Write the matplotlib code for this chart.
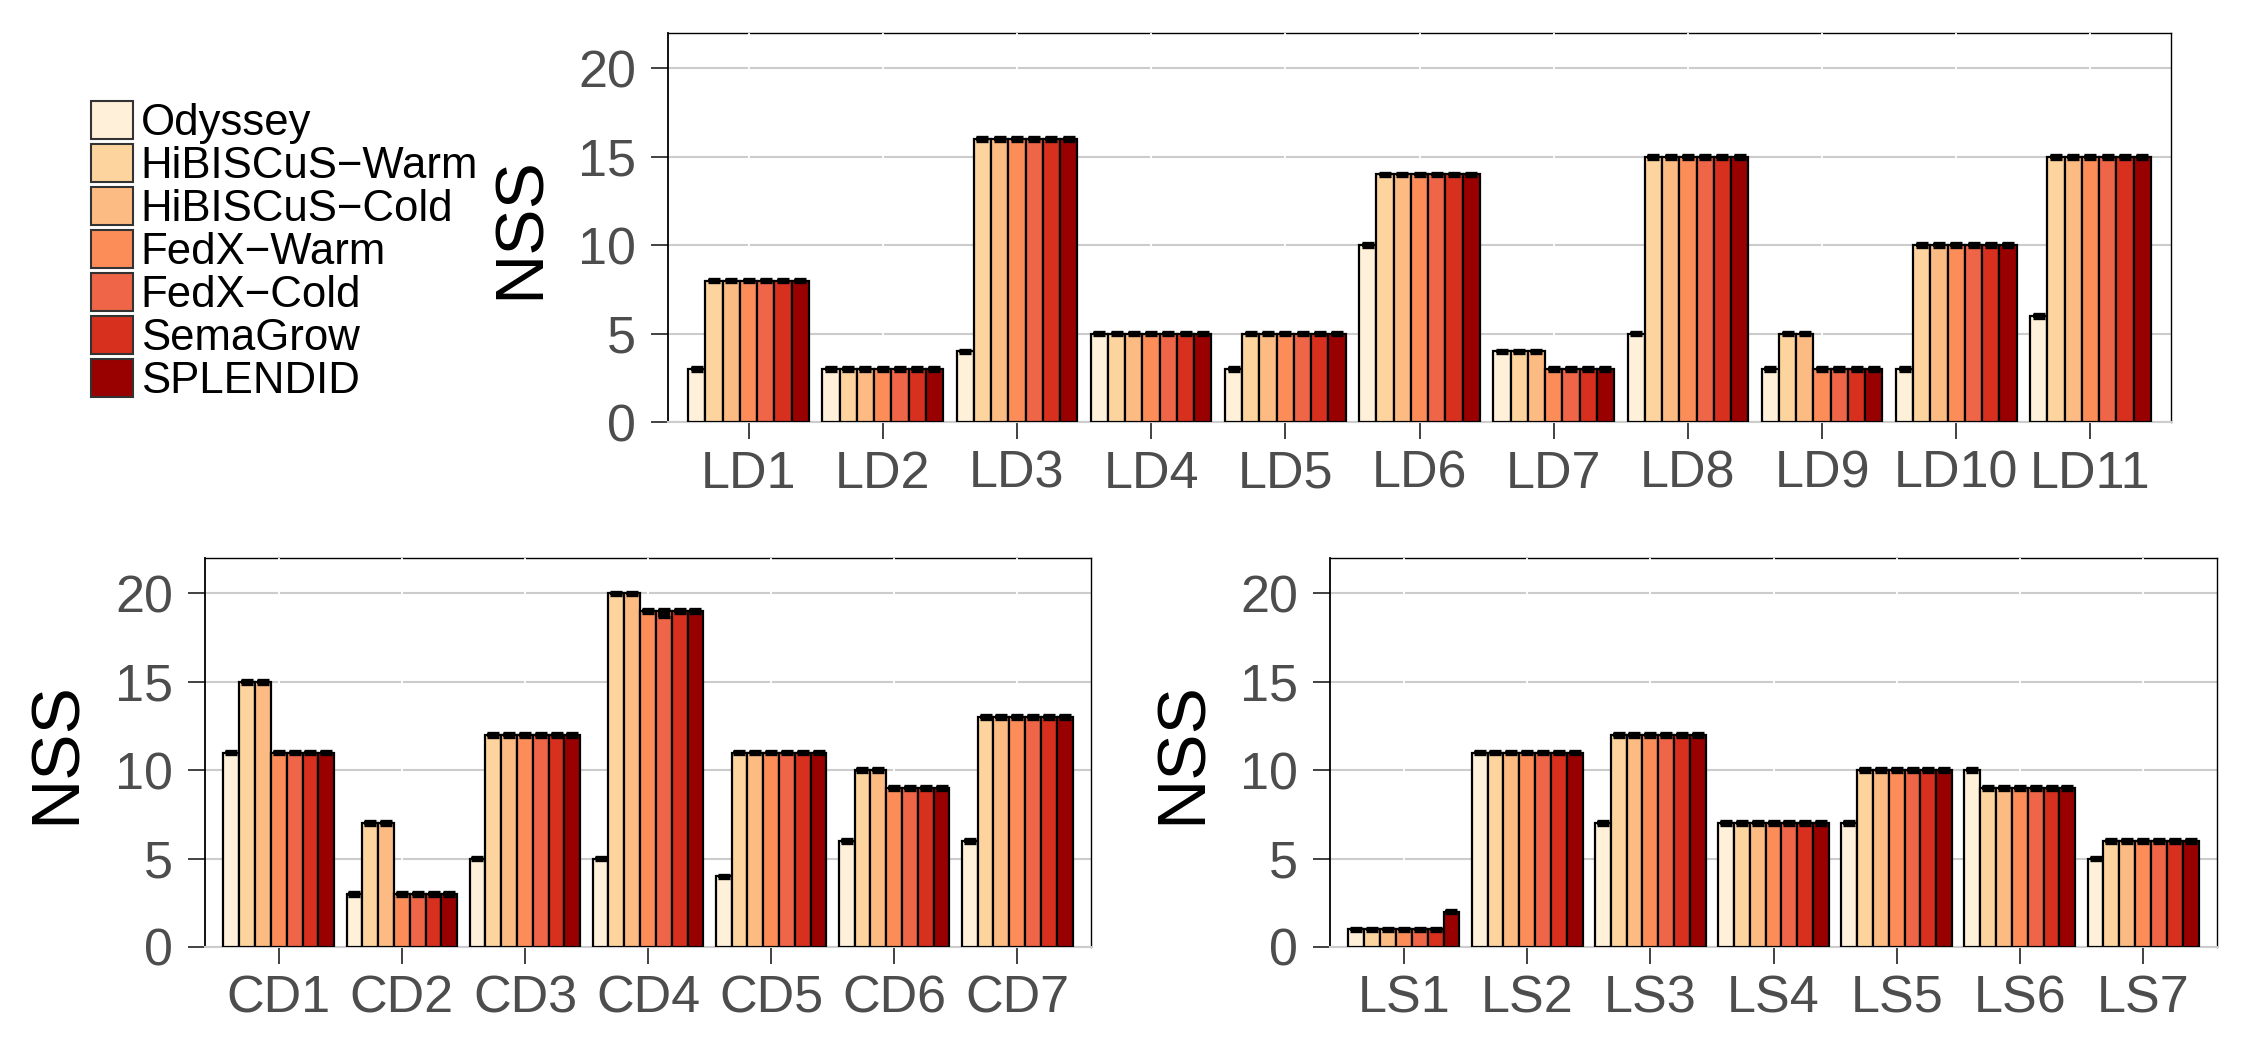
import matplotlib
matplotlib.use("Agg")
import matplotlib.pyplot as plt
import numpy as np
from matplotlib.patches import Patch

plt.rcParams["font.family"] = ["Liberation Sans", "DejaVu Sans"]

systems = ["Odyssey", "HiBISCuS\u2212Warm", "HiBISCuS\u2212Cold", "FedX\u2212Warm",
           "FedX\u2212Cold", "SemaGrow", "SPLENDID"]
colors = ["#fef0d9", "#fdd49e", "#fdbb84", "#fc8d59", "#ef6548", "#d7301f", "#990000"]

# one row per query, one value per system (same order as `systems`)
ld_queries = ["LD1", "LD2", "LD3", "LD4", "LD5", "LD6", "LD7", "LD8", "LD9", "LD10", "LD11"]
ld_nss = [
    [3, 8, 8, 8, 8, 8, 8],
    [3, 3, 3, 3, 3, 3, 3],
    [4, 16, 16, 16, 16, 16, 16],
    [5, 5, 5, 5, 5, 5, 5],
    [3, 5, 5, 5, 5, 5, 5],
    [10, 14, 14, 14, 14, 14, 14],
    [4, 4, 4, 3, 3, 3, 3],
    [5, 15, 15, 15, 15, 15, 15],
    [3, 5, 5, 3, 3, 3, 3],
    [3, 10, 10, 10, 10, 10, 10],
    [6, 15, 15, 15, 15, 15, 15],
]

cd_queries = ["CD1", "CD2", "CD3", "CD4", "CD5", "CD6", "CD7"]
cd_nss = [
    [11, 15, 15, 11, 11, 11, 11],
    [3, 7, 7, 3, 3, 3, 3],
    [5, 12, 12, 12, 12, 12, 12],
    [5, 20, 20, 19, 19, 19, 19],
    [4, 11, 11, 11, 11, 11, 11],
    [6, 10, 10, 9, 9, 9, 9],
    [6, 13, 13, 13, 13, 13, 13],
]

ls_queries = ["LS1", "LS2", "LS3", "LS4", "LS5", "LS6", "LS7"]
ls_nss = [
    [1, 1, 1, 1, 1, 1, 2],
    [11, 11, 11, 11, 11, 11, 11],
    [7, 12, 12, 12, 12, 12, 12],
    [7, 7, 7, 7, 7, 7, 7],
    [7, 10, 10, 10, 10, 10, 10],
    [10, 9, 9, 9, 9, 9, 9],
    [5, 6, 6, 6, 6, 6, 6],
]

# error bars are tiny; one wider lower whisker on CD4 / FedX-Cold
err = 0.1
cd_err_low = {(3, 4): 0.35}

TICK_GREY = "#4d4d4d"
GRID_GREY = "#cccccc"


def draw_panel(ax, queries, nss, err_low=None):
    err_low = err_low or {}
    vals = np.array(nss, dtype=float)
    n = len(queries)
    centers = np.arange(1, n + 1)
    w = 0.9 / len(systems)

    for j, (name, col) in enumerate(zip(systems, colors)):
        x = centers + (j - (len(systems) - 1) / 2) * w
        y = vals[:, j]
        ax.bar(x, y, width=w, color=col, edgecolor="black", linewidth=1.6, zorder=4)
        lo = [err_low.get((i, j), err) for i in range(n)]
        ax.errorbar(x, y, yerr=[lo, [err] * n], fmt="none", ecolor="black",
                    elinewidth=8.5, capsize=4.3, capthick=2.4, zorder=5)

    ax.set_xlim(0.4, n + 0.6)
    ax.set_ylim(0, 22)
    ax.set_yticks([0, 5, 10, 15, 20])
    ax.set_xticks(centers)
    ax.set_xticklabels(queries)

    ax.set_axisbelow(True)
    ax.grid(axis="y", which="major", color=GRID_GREY, linewidth=1.5, zorder=0.5)
    for c in centers:
        ax.axvline(c, color="white", linewidth=1.3, zorder=3)

    ax.tick_params(axis="both", which="major", length=12, width=1.3, color="#333333",
                   labelsize=37.5, labelcolor=TICK_GREY, direction="out")
    ax.tick_params(axis="x", pad=8)
    ax.tick_params(axis="y", pad=11)

    for side in ["top", "right", "left"]:
        ax.spines[side].set_color("black")
        ax.spines[side].set_linewidth(1.0)
        ax.spines[side].set_zorder(2)
    ax.spines["left"].set_linewidth(1.3)
    ax.spines["bottom"].set_color(GRID_GREY)
    ax.spines["bottom"].set_linewidth(1.5)


fig = plt.figure(figsize=(22.5, 10.5), dpi=100)
fig.patch.set_facecolor("white")

W, H = 2250.0, 1050.0
ax_ld = fig.add_axes([668 / W, 1 - 422 / H, 1503 / W, 389 / H])
ax_cd = fig.add_axes([205 / W, 1 - 947 / H, 886 / W, 389 / H])
ax_ls = fig.add_axes([1330 / W, 1 - 947 / H, 887 / W, 389 / H])

draw_panel(ax_ld, ld_queries, ld_nss)
draw_panel(ax_cd, cd_queries, cd_nss, cd_err_low)
draw_panel(ax_ls, ls_queries, ls_nss)

for xc, yc in [(521, 228), (57, 752), (1183, 752)]:
    fig.text(xc / W, 1 - yc / H, "NSS", rotation=90, ha="center", va="center",
             fontsize=50, color="black")

handles = [Patch(facecolor=c, edgecolor="#333333", linewidth=1.5) for c in colors]
fig.legend(handles, systems, loc="upper left", bbox_to_anchor=(91 / W, 1 - 101 / H),
           frameon=False, fontsize=31.5, handlelength=0.96, handleheight=0.96,
           labelspacing=0.0, handletextpad=0.18, borderpad=0, borderaxespad=0)

fig.savefig("out.png", dpi=100, facecolor="white")
